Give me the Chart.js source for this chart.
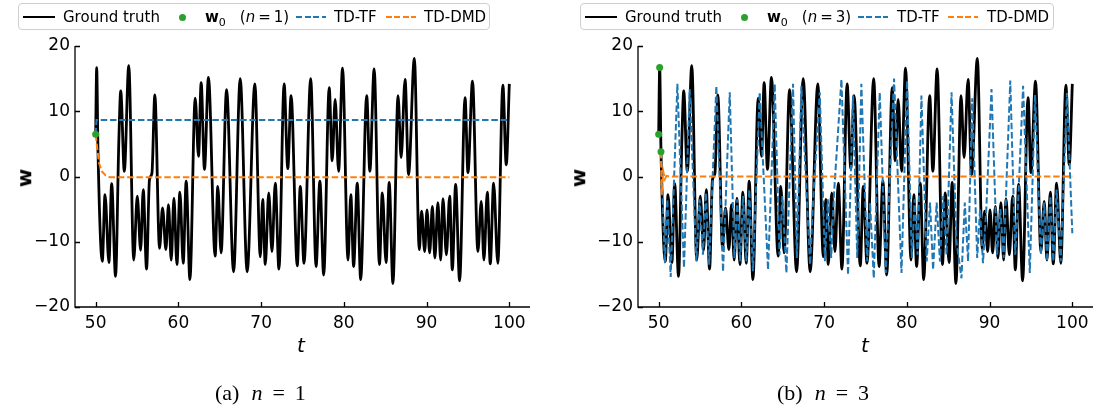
<!DOCTYPE html>
<html>
<head>
<meta charset="utf-8">
<script src="https://cdn.jsdelivr.net/npm/chart.js@4.4.1/dist/chart.umd.min.js"></script>
<style>
  body { margin: 0; width: 1097px; height: 409px; position: relative; background: #fff; overflow: hidden; font-family: "DejaVu Sans", sans-serif; }
  .pane { position: absolute; top: 0; height: 409px; }
  .lg { position: absolute; top: 3px; height: 27px; border: 1px solid #cfcfcf; border-radius: 4px; box-sizing: border-box; background: #fff; }
  .txt { position: absolute; top: 4px; font-size: 15px; line-height: 18px; color: #000; white-space: nowrap; }
  .smp { position: absolute; top: 12px; height: 2px; }
  .dot { position: absolute; top: 10px; width: 7px; height: 7px; border-radius: 50%; background: #2ca02c; }
  .lab { position: absolute; color: #000; white-space: nowrap; }
  .cap { position: absolute; top: 380px; font-family: "Liberation Serif", "DejaVu Serif", serif; font-size: 22px; white-space: nowrap; }
</style>
</head>
<body>
<div class="pane" style="left:0;width:548px"><canvas id="c1" width="548" height="409"></canvas></div>
<div class="pane" style="left:548px;width:549px"><canvas id="c2" width="549" height="409"></canvas></div>

<div id="lg1" class="lg" style="left:18px;width:472px"></div>
<div id="lg2" class="lg" style="left:580px;width:474px"></div>

<div class="lab" style="left:15px;top:166px;font-size:20px;font-weight:bold;transform:rotate(-90deg)">w</div>
<div class="lab" style="left:569px;top:166px;font-size:20px;font-weight:bold;transform:rotate(-90deg)">w</div>
<div class="lab" style="left:297px;top:333px;font-size:20px;font-style:italic">t</div>
<div class="lab" style="left:861px;top:333px;font-size:20px;font-style:italic">t</div>

<div class="cap" style="left:215px">(a)<i style="margin-left:12px">n</i><span style="margin-left:10px">=</span><span style="margin-left:10px">1</span></div>
<div class="cap" style="left:777px">(b)<i style="margin-left:12px">n</i><span style="margin-left:10px">=</span><span style="margin-left:10px">3</span></div>

<script>
// ground truth (same in both panels)
const gtT = [50, 50.12, 50.28, 50.8, 51.13, 51.6, 51.93, 52.4, 52.8, 53.03, 53.46, 54.0, 54.6, 55.03, 55.43, 55.75, 56.15, 56.5, 56.8, 57.15,
  57.72, 58.08, 58.49, 58.8, 59.13, 59.46, 59.82, 60.18, 60.58, 60.94, 61.39, 62.03, 62.43, 62.75, 63.15, 63.63, 64.44, 64.76, 65.16, 65.82,
  66.67, 67.47, 68.31, 69.24, 69.9, 70.19, 70.5, 70.92, 71.31, 71.71, 72.15, 72.78, 73.22, 73.62, 74.37, 74.73, 75.18, 75.99, 76.64, 77.1,
  77.56, 78.23, 78.59, 78.95, 79.36, 79.84, 80.5, 80.84, 81.18, 81.62, 82.03, 82.76, 83.14, 83.66, 84.3, 84.65, 85.1, 85.48, 85.93, 86.55,
  86.92, 87.4, 87.82, 88.52, 89.12, 89.4, 89.77, 90.05, 90.37, 90.7, 91.0, 91.37, 91.7, 91.98, 92.39, 92.79, 93.11, 93.51, 93.99, 94.65,
  95.0, 95.55, 96.2, 96.61, 96.93, 97.34, 97.7, 98.1, 98.61, 99.22, 99.63, 100];
const gtW = [6.46, 16.7, 3.8, -13.0, -2.8, -13.2, -1.1, -15.3, 5.5, 13.1, 0.8, 17.0, -12.8, -3.0, -11.3, -2.0, -14.2, -0.5, 0.5, 12.5,
  -11.0, -4.8, -11.2, -4.3, -12.8, -3.3, -13.5, -2.4, -13.3, -0.7, -15.8, 12.0, 3.1, 14.4, 1.1, 15.2, -12.2, -1.5, -11.7, 13.3,
  -14.6, 15.0, -14.6, 14.2, -12.3, -3.5, -13.5, -2.5, -11.5, -1.0, -14.2, 14.2, 1.2, 12.4, -13.7, -1.5, -13.3, 15.0, -13.8, -0.7,
  -15.1, 13.6, 2.4, 11.8, 0.8, 16.6, -12.8, -2.8, -13.8, -1.0, -15.8, 12.4, 0.8, 16.5, -13.5, -2.5, -13.2, -0.9, -16.4, 12.4,
  2.9, 14.9, 0.3, 18.1, -11.2, -5.3, -11.5, -5.1, -11.7, -4.6, -12.5, -4.0, -12.8, -3.4, -12.0, -3.0, -14.3, -1.2, -16.0, 12.1,
  0.6, 14.6, -11.5, -3.8, -12.8, -2.4, -13.4, -1.0, -13.3, 14.0, 1.8, 14.2];

// panel (a): n = 1
const w0T1 = [50];
const w0W1 = [6.46];
const tfT1 = [50, 50.1, 100];
const tfW1 = [6.46, 8.66, 8.66];
const dmdT1 = [50, 50.2, 50.4, 50.73, 51.2, 51.7, 100];
const dmdW1 = [6.46, 4.15, 2.1, 0.8, 0.15, -0.1, -0.1];

// panel (b): n = 3
const w0T3 = [50, 50.12, 50.28];
const w0W3 = [6.46, 16.7, 3.8];
const tfT3 = [50.28, 50.75, 51.05, 51.45, 52.26, 53.06, 53.75, 54.55, 54.95, 55.35, 55.7, 56.1, 56.97, 57.78, 58.59, 59.15, 59.5, 59.85, 60.2, 60.6,
  60.95, 61.4, 62.21, 63.22, 64.03, 64.6, 64.95, 65.44, 66.24, 66.7, 67.25, 68.3, 68.7, 69.47, 70.1, 70.45, 70.85, 71.2, 72.09, 72.89,
  73.49, 74.0, 74.5, 75.2, 75.55, 76.0, 76.72, 77.45, 78.45, 79.35, 80.02, 80.6, 80.95, 81.3, 81.76, 82.4, 82.8, 83.17, 83.6, 84.0,
  84.4, 84.8, 85.4, 86.0, 86.6, 87.0, 87.4, 87.9, 88.5, 88.85, 89.2, 89.6, 90.23, 90.9, 91.3, 91.7, 92.5, 93.1, 93.45, 94.05,
  94.86, 95.5, 96.2, 96.6, 96.95, 97.35, 97.7, 98.1, 98.6, 99.35, 100];
const tfW3 = [3.8, -13.3, -3.5, -15.4, 14.2, -14.0, 13.4, -13.0, -3.5, -12.0, -2.5, -13.5, 13.9, -14.6, 12.9, -12.5, -3.5, -13.0, -3.0, -13.0,
  -2.0, -14.5, 12.9, -14.3, 14.2, -12.0, -3.0, -14.8, 14.2, -12.5, 13.9, -13.5, -3.0, 12.9, -13.0, -3.5, -12.5, -2.5, 14.9, -15.1,
  12.4, -12.5, 14.2, -13.0, -4.0, -15.6, 12.9, -14.8, 15.0, -14.8, 14.7, -12.5, -3.5, -12.0, 12.4, -13.0, -4.0, -14.3, -4.0, -13.0,
  -3.0, -12.0, 12.9, -10.0, -15.6, -4.0, -13.0, 12.0, -12.5, -5.0, -13.3, -5.0, 13.4, -12.0, -5.0, -12.5, 14.7, -12.0, -4.0, 13.9,
  -14.8, 12.5, -12.0, -4.0, -13.0, -3.0, -13.0, -2.0, -13.0, 12.8, -8.7];
const dmdT3 = [50.28, 50.36, 50.55, 50.75, 50.95, 51.3, 100];
const dmdW3 = [3.8, -2.8, 0.8, -0.4, 0.1, 0.0, 0.0];

const xTicks = [50, 60, 70, 80, 90, 100];
const yTicks = [-20, -10, 0, 10, 20];

const BLUE = '#1f77b4', ORANGE = '#ff7f0e', GREEN = '#2ca02c';
const pts = (ts, ws) => ts.map((t, i) => ({ x: t, y: ws[i] }));

// matplotlib-like spines and inward ticks
const frame = {
  id: 'frame',
  afterDatasetsDraw(chart) {
    const { ctx, chartArea: a, scales: { x, y } } = chart;
    ctx.save();
    ctx.strokeStyle = '#000';
    ctx.lineWidth = 1.3;
    ctx.beginPath();
    ctx.moveTo(a.left, a.top);
    ctx.lineTo(a.left, a.bottom);
    ctx.lineTo(a.right, a.bottom);
    x.ticks.forEach(t => {
      const px = Math.round(x.getPixelForValue(t.value)) + 0.5;
      ctx.moveTo(px, a.bottom); ctx.lineTo(px, a.bottom - 5);
    });
    y.ticks.forEach(t => {
      const py = Math.round(y.getPixelForValue(t.value)) + 0.5;
      ctx.moveTo(a.left, py); ctx.lineTo(a.left + 5, py);
    });
    ctx.stroke();
    ctx.restore();
  }
};

function makeChart(id, yWidth, padRight, w0T, w0W, tfT, tfW, dmdT, dmdW) {
  return new Chart(document.getElementById(id), {
    type: 'scatter',
    data: {
      datasets: [
        { data: pts(w0T, w0W), showLine: false, pointRadius: 3.5, pointBackgroundColor: GREEN, pointBorderWidth: 0, order: 0 },
        { data: pts(dmdT, dmdW), showLine: true, borderColor: ORANGE, borderWidth: 2, borderDash: [6.5, 2.8], pointRadius: 0, order: 1 },
        { data: pts(tfT, tfW), showLine: true, borderColor: BLUE, borderWidth: 2, borderDash: [6.5, 2.8], pointRadius: 0, order: 2 },
        { data: pts(gtT, gtW), showLine: true, borderColor: '#000', borderWidth: 2.8, pointRadius: 0, cubicInterpolationMode: 'monotone', order: 3 }
      ]
    },
    options: {
      responsive: false,
      animation: false,
      devicePixelRatio: 1,
      layout: { padding: { top: 46, right: padRight, left: 0, bottom: 0 } },
      plugins: { legend: { display: false }, tooltip: { enabled: false } },
      scales: {
        x: {
          type: 'linear', min: 47.5, max: 102.5,
          grid: { display: false, drawTicks: false }, border: { display: false },
          afterBuildTicks: s => { s.ticks = xTicks.map(v => ({ value: v })); },
          afterFit: s => { s.height = 102; },
          ticks: { color: '#000', padding: 6, font: { family: 'DejaVu Sans', size: 17 } }
        },
        y: {
          type: 'linear', min: -20, max: 20,
          grid: { display: false, drawTicks: false }, border: { display: false },
          afterBuildTicks: s => { s.ticks = yTicks.map(v => ({ value: v })); },
          afterFit: s => { s.width = yWidth; },
          ticks: { color: '#000', padding: 5, font: { family: 'DejaVu Sans', size: 17 },
            callback: v => (v < 0 ? '\u2212' + Math.abs(v) : String(v)) }
        }
      }
    },
    plugins: [frame]
  });
}

makeChart('c1', 75, 18, w0T1, w0W1, tfT1, tfW1, dmdT1, dmdW1);
makeChart('c2', 90, 4, w0T3, w0W3, tfT3, tfW3, dmdT3, dmdW3);

// legends
const dash = c => `background:repeating-linear-gradient(to right, ${c} 0 6px, transparent 6px 8.5px)`;
function legend(id, n, o) {
  const el = document.getElementById(id);
  el.innerHTML =
    `<div class="smp" style="left:${o[0]}px;width:32px;background:#000"></div>` +
    `<div class="txt" style="left:${o[1]}px">Ground truth</div>` +
    `<div class="dot" style="left:${o[2]}px"></div>` +
    `<div class="txt" style="left:${o[3]}px"><b>w</b><sub style="font-size:11px">0</sub>` +
    `<span style="margin-left:14px">(</span><i>n</i>` +
    `<span style="margin-left:3px">=</span><span style="margin-left:3px">${n}</span><span>)</span></div>` +
    `<div class="smp" style="left:${o[4]}px;width:30px;${dash(BLUE)}"></div>` +
    `<div class="txt" style="left:${o[5]}px">TD-TF</div>` +
    `<div class="smp" style="left:${o[6]}px;width:30px;${dash(ORANGE)}"></div>` +
    `<div class="txt" style="left:${o[7]}px">TD-DMD</div>`;
}
legend('lg1', 1, [4, 44, 160, 186, 277, 315, 367, 405]);
legend('lg2', 3, [4, 44, 160, 186, 277, 316, 367, 406]);
</script>
</body>
</html>
